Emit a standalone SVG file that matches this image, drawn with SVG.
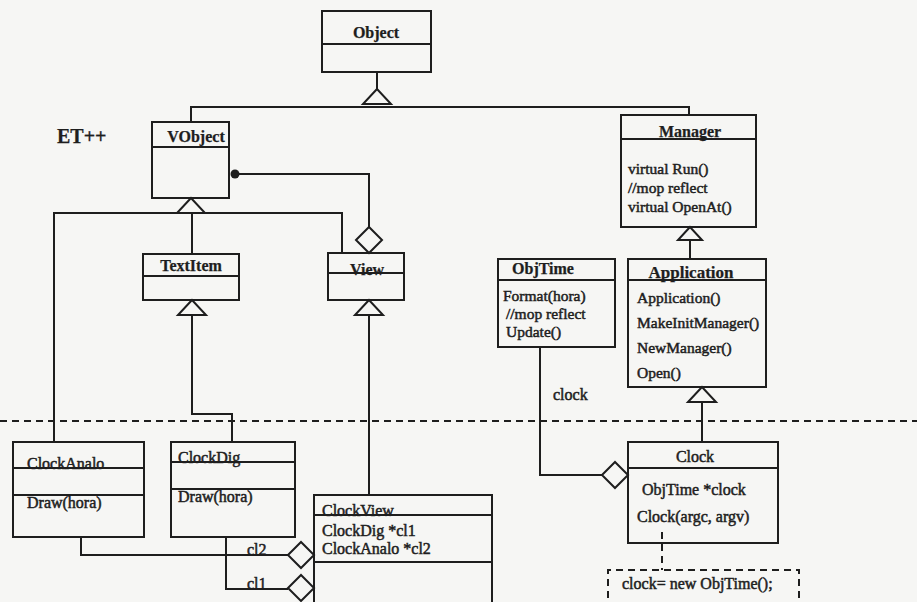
<svg xmlns="http://www.w3.org/2000/svg" width="917" height="602" viewBox="0 0 917 602">
  <style>
    .box { fill: none; stroke: #1e1e1e; stroke-width: 2; }
    .ln { fill: none; stroke: #1e1e1e; stroke-width: 2; }
    .dash { fill: none; stroke: #1e1e1e; stroke-width: 2; stroke-dasharray: 7 5; }
    .hollow { fill: #f6f6f4; stroke: #1e1e1e; stroke-width: 2; stroke-linejoin: miter; }
    .t { font-family: "Liberation Serif", "Times New Roman", serif; font-size: 16px; fill: #1e1e1e; stroke: #1e1e1e; stroke-width: 0.5; }
    .m { font-size: 15.5px; }
    .b { font-weight: bold; stroke-width: 0.25; }
    .c { text-anchor: middle; }
  </style>
  <defs>
    <!-- generalisation arrowhead, apex at origin pointing up -->
    <polygon id="gen" points="0,0 -14,15 14,15" class="hollow"/>
    <!-- aggregation diamond centred on origin -->
    <polygon id="agg" points="-13,0 0,-13 13,0 0,13" class="hollow"/>
  </defs>

  <rect width="917" height="602" fill="#f6f6f4"/>

  <!-- package boundary -->
  <path class="dash" d="M0,421 H917"/>

  <text class="t b" x="57" y="143" style="font-size:20px">ET++</text>

  <g id="connectors">
    <path class="ln" d="M377,72 V89"/>
    <path class="ln" d="M191,122 V107 H689 V115"/>
    <path class="ln" d="M54,442 V213 H342 V253"/>
    <path class="ln" d="M192,213 V254"/>
    <path class="ln" d="M235,174 H369 V227"/>
    <path class="ln" d="M192,314 V414 H232 V442"/>
    <path class="ln" d="M369,314 V495"/>
    <path class="ln" d="M81,537 V555 H288"/>
    <path class="ln" d="M226,537 V589 H288"/>
    <line class="ln" x1="540" y1="347" x2="540" y2="476"/>
    <line class="ln" x1="539" y1="475" x2="602" y2="475"/>
    <path class="ln" d="M690,240 V259"/>
    <path class="ln" d="M702,402 V442"/>
    <path class="dash" d="M662,532 V570"/>

    <use href="#gen" x="377" y="89"/>
    <use href="#gen" x="191" y="198"/>
    <use href="#gen" x="192" y="300"/>
    <use href="#gen" x="369" y="300"/>
    <polygon class="hollow" points="690,227 678,240 702,240"/>
    <use href="#gen" x="702" y="387"/>

    <circle cx="235" cy="174" r="4.5" fill="#1e1e1e"/>
    <use href="#agg" x="369" y="240"/>
    <use href="#agg" x="615" y="475"/>
    <use href="#agg" x="301" y="555"/>
    <use href="#agg" x="301" y="588"/>

    <text class="t" x="553" y="400">clock</text>
    <text class="t" x="247" y="555">cl2</text>
    <text class="t" x="247" y="589">cl1</text>
  </g>

  <g id="Object">
    <rect class="box" x="322" y="11" width="109" height="61"/>
    <path class="ln" d="M322,44 H431"/>
    <text class="t b c" x="376" y="38">Object</text>
  </g>

  <g id="VObject">
    <rect class="box" x="152" y="122" width="77" height="76"/>
    <path class="ln" d="M152,147 H229"/>
    <text class="t b c" x="196" y="142">VObject</text>
  </g>

  <g id="Manager">
    <rect class="box" x="621" y="115" width="135" height="112"/>
    <path class="ln" d="M621,139 H756"/>
    <text class="t b c" x="690" y="137">Manager</text>
    <text class="t m" x="628" y="174">virtual Run()</text>
    <text class="t m" x="628" y="193">//mop reflect</text>
    <text class="t m" x="628" y="212">virtual OpenAt()</text>
  </g>

  <g id="TextItem">
    <rect class="box" x="143" y="254" width="96" height="46"/>
    <path class="ln" d="M143,276 H239"/>
    <text class="t b c" x="191" y="271">TextItem</text>
  </g>

  <g id="View">
    <rect class="box" x="328" y="253" width="76" height="47"/>
    <path class="ln" d="M328,273 H404"/>
    <text class="t b c" x="367" y="275">View</text>
  </g>

  <g id="ObjTime">
    <rect class="box" x="498" y="259" width="117" height="88"/>
    <path class="ln" d="M498,280 H615"/>
    <text class="t b c" x="543" y="274">ObjTime</text>
    <text class="t m" x="503" y="301">Format(hora)</text>
    <text class="t m" x="506" y="319">//mop reflect</text>
    <text class="t m" x="506" y="337">Update()</text>
  </g>

  <g id="Application">
    <rect class="box" x="628" y="259" width="138" height="128"/>
    <path class="ln" d="M628,280 H766"/>
    <text class="t b c" x="691" y="278" style="font-size:17px">Application</text>
    <text class="t m" x="637" y="303">Application()</text>
    <text class="t m" x="637" y="328">MakeInitManager()</text>
    <text class="t m" x="637" y="353">NewManager()</text>
    <text class="t m" x="637" y="378">Open()</text>
  </g>

  <g id="ClockAnalo">
    <rect class="box" x="13" y="442" width="131" height="95"/>
    <path class="ln" d="M13,468 H144"/>
    <path class="ln" d="M13,495 H144"/>
    <text class="t" x="27" y="469">ClockAnalo</text>
    <text class="t" x="27" y="508">Draw(hora)</text>
  </g>

  <g id="ClockDig">
    <rect class="box" x="171" y="442" width="124" height="95"/>
    <path class="ln" d="M171,462 H295"/>
    <path class="ln" d="M171,489 H295"/>
    <text class="t" x="178" y="463">ClockDig</text>
    <text class="t" x="178" y="502">Draw(hora)</text>
  </g>

  <g id="Clock">
    <rect class="box" x="628" y="442" width="150" height="101"/>
    <path class="ln" d="M628,468 H778"/>
    <text class="t c" x="695" y="462">Clock</text>
    <text class="t" x="642" y="495">ObjTime *clock</text>
    <text class="t" x="637" y="522">Clock(argc, argv)</text>
  </g>

  <g id="ClockView">
    <rect class="box" x="314" y="495" width="178" height="120"/>
    <path class="ln" d="M314,515 H492"/>
    <path class="ln" d="M314,562 H492"/>
    <text class="t" x="322" y="516">ClockView</text>
    <text class="t" x="322" y="536">ClockDig *cl1</text>
    <text class="t" x="322" y="554">ClockAnalo *cl2</text>
  </g>

  <g id="note">
    <path class="dash" d="M608,610 V570 H799 V610"/>
    <text class="t" x="622" y="589">clock= new ObjTime();</text>
  </g>
</svg>
